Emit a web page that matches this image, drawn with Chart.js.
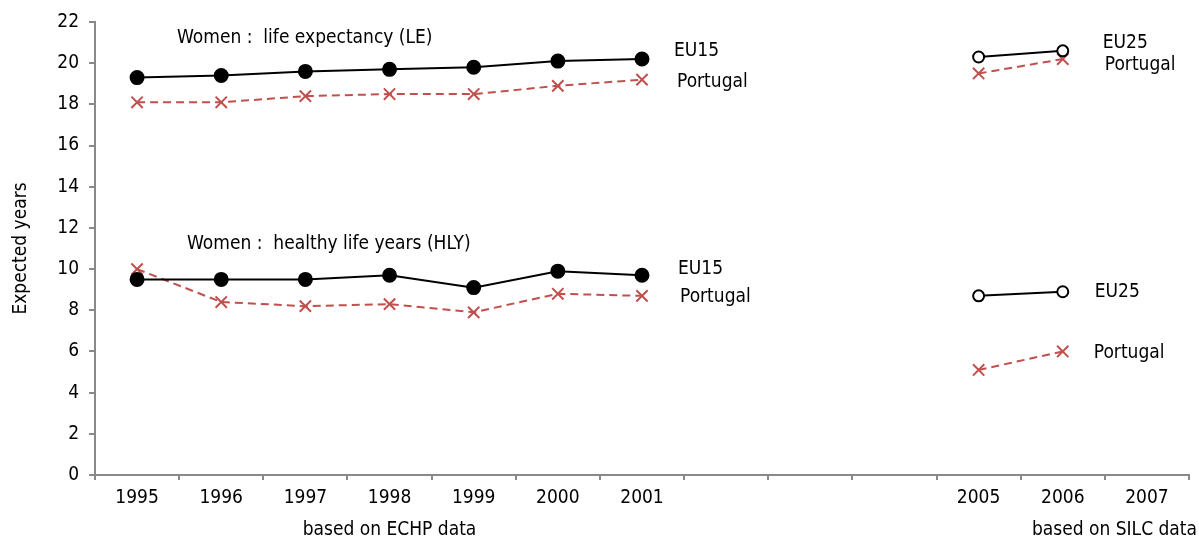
<!DOCTYPE html>
<html>
<head>
<meta charset="utf-8">
<script src="https://cdn.jsdelivr.net/npm/chart.js@4.4.0/dist/chart.umd.min.js"></script>
<style>
  html, body { margin: 0; padding: 0; background: #fff; }
</style>
</head>
<body>
<canvas id="chart" width="1199" height="556"></canvas>
<script>
// categories (gap years 2002-2004 are empty slots)
const years = ['1995', '1996', '1997', '1998', '1999', '2000', '2001', '', '', '', '2005', '2006', '2007'];
const yTicks = [0, 2, 4, 6, 8, 10, 12, 14, 16, 18, 20, 22];

// ECHP period 1995-2001
const eu15LE = [19.3, 19.4, 19.6, 19.7, 19.8, 20.1, 20.2];
const ptLE = [18.1, 18.1, 18.4, 18.5, 18.5, 18.9, 19.2];
const eu15HLY = [9.5, 9.5, 9.5, 9.7, 9.1, 9.9, 9.7];
const ptHLY = [10.0, 8.4, 8.2, 8.3, 7.9, 8.8, 8.7];

// SILC period 2005-2006
const eu25LE = [20.3, 20.6];
const ptLEsilc = [19.5, 20.2];
const eu25HLY = [8.7, 8.9];
const ptHLYsilc = [5.1, 6.0];

const RED = '#c0504d';
const AXIS = '#898989';
const FONT = "'Liberation Sans Narrow', 'Arial Narrow', 'DejaVu Sans Condensed', 'Liberation Sans', Arial, sans-serif";

// put a short series into the 13 category slots
function place(start, values) {
    const out = new Array(years.length).fill(null);
    values.forEach((v, i) => { out[start + i] = v; });
    return out;
}

function blackSeries(label, data, filled) {
    return {
        label: label,
        data: data,
        borderColor: '#000',
        borderWidth: 2,
        pointStyle: 'circle',
        pointRadius: filled ? 6.5 : 5.5,
        pointBorderWidth: 2,
        pointBackgroundColor: filled ? '#000' : '#fff',
        pointBorderColor: '#000',
        spanGaps: false,
        tension: 0
    };
}

function redSeries(label, data) {
    return {
        label: label,
        data: data,
        borderColor: RED,
        borderWidth: 2,
        borderDash: [8, 5],
        pointStyle: 'crossRot',
        pointRadius: 8,
        pointBorderWidth: 2,
        pointBorderColor: RED,
        pointBackgroundColor: RED,
        spanGaps: false,
        tension: 0
    };
}

// text notes: anchored on a category slot and a value, dx in pixels
const notes = [
    { text: 'Women :  life expectancy (LE)', at: 0, value: 21.2, dx: 40 },
    { text: 'Women :  healthy life years (HLY)', at: 0, value: 11.2, dx: 50 },
    { text: 'EU15', at: 6, value: 20.6, dx: 32 },
    { text: 'Portugal', at: 6, value: 19.1, dx: 35 },
    { text: 'EU15', at: 6, value: 10.0, dx: 36 },
    { text: 'Portugal', at: 6, value: 8.65, dx: 38 },
    { text: 'EU25', at: 11, value: 21.0, dx: 40 },
    { text: 'Portugal', at: 11, value: 19.9, dx: 42 },
    { text: 'EU25', at: 11, value: 8.9, dx: 32 },
    { text: 'Portugal', at: 11, value: 5.9, dx: 31 }
];

const notesPlugin = {
    id: 'notes',
    afterDraw(chart) {
        const ctx = chart.ctx;
        const xs = chart.scales.x;
        const ys = chart.scales.y;
        ctx.save();
        ctx.fillStyle = '#000';
        ctx.font = '19px ' + FONT;
        ctx.textBaseline = 'middle';
        ctx.textAlign = 'left';
        notes.forEach(n => {
            ctx.fillText(n.text, xs.getPixelForValue(n.at) + n.dx, ys.getPixelForValue(n.value));
        });
        // data source captions under the axis
        const yb = ys.bottom + 55;
        ctx.textAlign = 'center';
        ctx.fillText('based on ECHP data', xs.getPixelForValue(3), yb);
        ctx.textAlign = 'right';
        ctx.fillText('based on SILC data', chart.width - 2, yb);
        ctx.restore();
    }
};

new Chart(document.getElementById('chart'), {
    type: 'line',
    data: {
        labels: years,
        datasets: [
            blackSeries('EU15 LE', place(0, eu15LE), true),
            redSeries('Portugal LE', place(0, ptLE)),
            blackSeries('EU15 HLY', place(0, eu15HLY), true),
            redSeries('Portugal HLY', place(0, ptHLY)),
            blackSeries('EU25 LE', place(10, eu25LE), false),
            redSeries('Portugal LE (SILC)', place(10, ptLEsilc)),
            blackSeries('EU25 HLY', place(10, eu25HLY), false),
            redSeries('Portugal HLY (SILC)', place(10, ptHLYsilc))
        ]
    },
    options: {
        responsive: false,
        animation: false,
        devicePixelRatio: 1,
        layout: { padding: { top: 22, right: 0, left: 0, bottom: 0 } },
        plugins: {
            legend: { display: false },
            tooltip: { enabled: false }
        },
        scales: {
            x: {
                offset: true,
                grid: {
                    offset: true,
                    drawOnChartArea: false,
                    drawTicks: true,
                    tickLength: 5,
                    color: AXIS,
                    lineWidth: 2
                },
                border: { color: AXIS, width: 2 },
                ticks: {
                    color: '#000',
                    font: { family: FONT, size: 19 },
                    maxRotation: 0,
                    autoSkip: false,
                    padding: 7
                },
                afterFit(scale) {
                    scale.height = 81;
                    scale.paddingLeft = 0;
                    scale.paddingRight = 0;
                }
            },
            y: {
                min: 0,
                max: 22,
                afterBuildTicks(scale) { scale.ticks = yTicks.map(v => ({ value: v })); },
                grid: {
                    drawOnChartArea: false,
                    drawTicks: true,
                    tickLength: 6,
                    color: AXIS,
                    lineWidth: 2
                },
                border: { color: AXIS, width: 2 },
                ticks: {
                    color: '#000',
                    font: { family: FONT, size: 19 },
                    padding: 10
                },
                title: {
                    display: true,
                    text: 'Expected years',
                    color: '#000',
                    font: { family: FONT, size: 19 },
                    padding: { top: 10, bottom: 8 }
                },
                afterFit(scale) { scale.width = 95; }
            }
        }
    },
    plugins: [notesPlugin]
});
</script>
</body>
</html>
